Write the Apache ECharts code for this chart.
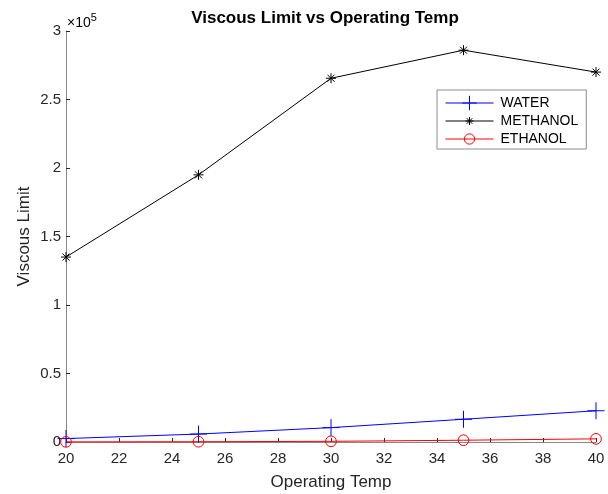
<!DOCTYPE html>
<html>
<head>
<meta charset="utf-8">
<script src="https://cdn.jsdelivr.net/npm/echarts@6/dist/echarts.min.js"></script>
<style>
  html, body { margin: 0; padding: 0; background: #fff; }
  #chart { width: 608px; height: 494px; }
</style>
</head>
<body>
<div id="chart"></div>
<script>
// Operating temperatures (x) and viscous limit per fluid (y)
const temps = [20, 25, 30, 35, 40];
const water = [2500, 5800, 10500, 16600, 22800];
const methanol = [135000, 195000, 265500, 286000, 270000];
const ethanol = [100, 200, 500, 1300, 2300];
const yTicks = [0, 0.5, 1, 1.5, 2, 2.5, 3];

const FONT = '"Liberation Sans", Arial, sans-serif';
const BLUE = '#0000ff', BLACK = '#000000', RED = '#ff0000';
const pairs = (ys) => temps.map((t, i) => [t, ys[i]]);

// Stroke-only marker shapes. The leading moves widen the bounding box so the
// glyph keeps the right proportion when the legend draws it at a fixed size.
const plusPath = 'path://M5,0L5,10M0,5L10,5';
const starPath = 'path://M0,0M18,18M9,4L9,14M4,9L14,9M5.5,5.5L12.5,12.5M12.5,5.5L5.5,12.5';
const ringPath = 'path://M0,0M14,14M12,7A5,5,0,1,1,2,7A5,5,0,1,1,12,7';

const markStyle = (c) => ({ color: 'rgba(0,0,0,0)', borderColor: c, borderWidth: 1 });

const chart = echarts.init(document.getElementById('chart'), null, { renderer: 'canvas' });

chart.setOption({
  animation: false,
  backgroundColor: '#ffffff',
  textStyle: { fontFamily: FONT },
  title: {
    text: 'Viscous Limit vs Operating Temp',
    left: 320, top: 5, textAlign: 'center',
    textStyle: { fontFamily: FONT, fontSize: 17, fontWeight: 'bold', color: '#000' }
  },
  grid: { left: 66, right: 12, top: 31, bottom: 52, containLabel: false, outerBoundsMode: 'none' },
  legend: {
    orient: 'vertical',
    left: 437, top: 90,
    itemWidth: 48, itemHeight: 18, itemGap: 0,
    padding: [4, 8, 1, 8],
    borderColor: '#8c8c8c', borderWidth: 1, backgroundColor: '#fff',
    lineStyle: { width: 1 },
    itemStyle: { borderWidth: 1 },
    textStyle: { fontFamily: FONT, fontSize: 14, lineHeight: 18, color: '#000', padding: [0, 0, 0, 2] },
    data: ['WATER', 'METHANOL', 'ETHANOL']
  },
  xAxis: {
    type: 'value', min: 20, max: 40, interval: 2,
    name: 'Operating Temp', nameLocation: 'middle', nameGap: 32,
    nameMoveOverlap: false,
    nameTextStyle: { fontFamily: FONT, fontSize: 17, color: '#262626' },
    axisLine: { lineStyle: { color: '#868686', width: 1 } },
    axisTick: { inside: true, length: 4, lineStyle: { color: '#262626' } },
    axisLabel: { fontFamily: FONT, fontSize: 15, color: '#262626', margin: 9 },
    splitLine: { show: false }
  },
  yAxis: {
    type: 'value', min: 0, max: 300000, interval: 50000,
    name: 'Viscous Limit', nameLocation: 'middle', nameGap: 33,
    nameMoveOverlap: false,
    nameTextStyle: { fontFamily: FONT, fontSize: 17, color: '#262626' },
    axisLine: { show: true, lineStyle: { color: '#868686', width: 1 } },
    axisTick: { show: true, inside: true, length: 4, lineStyle: { color: '#262626' } },
    axisLabel: {
      fontFamily: FONT, fontSize: 15, color: '#262626', margin: 5,
      formatter: (v) => String(yTicks[Math.round(v / 50000)])
    },
    splitLine: { show: false }
  },
  graphic: [{
    type: 'text', left: 67, top: 12,
    style: {
      text: '{a|×10}{b|5}', fontFamily: FONT,
      rich: {
        a: { fontSize: 14, color: '#262626', fontFamily: FONT, verticalAlign: 'bottom' },
        b: { fontSize: 11, color: '#262626', fontFamily: FONT, verticalAlign: 'top', padding: [0, 0, 7, 0] }
      }
    }
  }],
  series: [
    {
      name: 'WATER', type: 'line', data: pairs(water),
      symbol: plusPath, symbolSize: 17, symbolKeepAspect: true,
      clip: false,
      lineStyle: { color: BLUE, width: 1 },
      itemStyle: markStyle(BLUE)
    },
    {
      name: 'METHANOL', type: 'line', data: pairs(methanol),
      symbol: starPath, symbolSize: 18, symbolKeepAspect: true,
      clip: false,
      lineStyle: { color: BLACK, width: 1 },
      itemStyle: markStyle(BLACK)
    },
    {
      name: 'ETHANOL', type: 'line', data: pairs(ethanol),
      symbol: ringPath, symbolSize: 15, symbolKeepAspect: true,
      clip: false,
      lineStyle: { color: RED, width: 1 },
      itemStyle: markStyle(RED)
    }
  ]
});
</script>
</body>
</html>
